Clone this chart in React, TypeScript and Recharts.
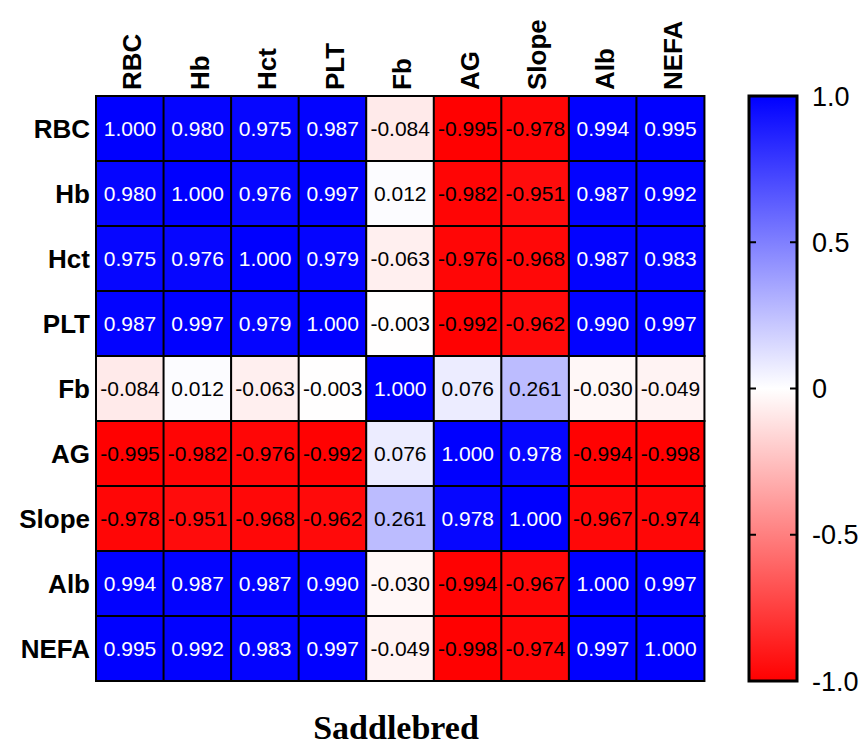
import React from "react";
import { BarChart, Bar, XAxis, YAxis, Cell, LabelList } from "recharts";

// ---------------------------------------------------------------------------
// Data
// ---------------------------------------------------------------------------

const VARS = ["RBC", "Hb", "Hct", "PLT", "Fb", "AG", "Slope", "Alb", "NEFA"];

const R_RBC = [1.0, 0.98, 0.975, 0.987, -0.084, -0.995, -0.978, 0.994, 0.995];
const R_HB = [0.98, 1.0, 0.976, 0.997, 0.012, -0.982, -0.951, 0.987, 0.992];
const R_HCT = [0.975, 0.976, 1.0, 0.979, -0.063, -0.976, -0.968, 0.987, 0.983];
const R_PLT = [0.987, 0.997, 0.979, 1.0, -0.003, -0.992, -0.962, 0.99, 0.997];
const R_FB = [-0.084, 0.012, -0.063, -0.003, 1.0, 0.076, 0.261, -0.03, -0.049];
const R_AG = [-0.995, -0.982, -0.976, -0.992, 0.076, 1.0, 0.978, -0.994, -0.998];
const R_SLOPE = [-0.978, -0.951, -0.968, -0.962, 0.261, 0.978, 1.0, -0.967, -0.974];
const R_ALB = [0.994, 0.987, 0.987, 0.99, -0.03, -0.994, -0.967, 1.0, 0.997];
const R_NEFA = [0.995, 0.992, 0.983, 0.997, -0.049, -0.998, -0.974, 0.997, 1.0];

const MATRIX = [R_RBC, R_HB, R_HCT, R_PLT, R_FB, R_AG, R_SLOPE, R_ALB, R_NEFA];

const SCALE_MIN = -1;
const SCALE_MAX = 1;
const SCALE_TICKS = [-1, -0.5, 0, 0.5, 1];
const SCALE_INNER_TICKS = [-0.5, 0, 0.5];
const ROW_TICKS = VARS.map((_, i) => i + 0.5);
const TITLE = "Saddlebred";

const SANS = "'Liberation Sans', Arial, sans-serif";
const SERIF = "'Liberation Serif', 'Times New Roman', serif";

// one entry per column; each row gets a unit-height stack segment + its r value
const table = VARS.map((name, ci) => {
  const d: Record<string, any> = { name };
  VARS.forEach((_, ri) => {
    d[`r${ri}`] = 1;
    d[`v${ri}`] = MATRIX[ri][ci];
  });
  return d;
});

const scaleData = [{ name: "scale", span: [SCALE_MIN, SCALE_MAX] }];

// white -> blue for positive, white -> red for negative
function cellColor(v: number) {
  const t = Math.round(255 * (1 - Math.min(1, Math.abs(v))));
  return v >= 0 ? `rgb(${t},${t},255)` : `rgb(255,${t},${t})`;
}

// ---------------------------------------------------------------------------
// Custom renderers
// ---------------------------------------------------------------------------

function CellLabel(props: any) {
  const vb = props.viewBox ?? props;
  const { x, y, width, height } = vb;
  const v = Number(props.value);
  return (
    <text
      x={x + width / 2}
      y={y + height / 2}
      dy="0.36em"
      textAnchor="middle"
      fontFamily={SANS}
      fontSize={21}
      fill={v > 0.5 ? "#fff" : "#000"}
    >
      {v.toFixed(3)}
    </text>
  );
}

function ColTick({ x, y, payload }: any) {
  return (
    <text
      transform={`translate(${x + 2},${y}) rotate(-90)`}
      textAnchor="start"
      dy="0.36em"
      fontFamily={SANS}
      fontSize={26}
      fontWeight={700}
      fill="#000"
    >
      {payload.value}
    </text>
  );
}

// gradient bar with short inward ticks on both sides
function ScaleBar(props: any) {
  const top = Math.min(props.y, props.y + props.height);
  const h = Math.abs(props.height);
  const left = props.x;
  const right = props.x + props.width;
  const len = 7;
  return (
    <g>
      <rect x={left} y={top} width={props.width} height={h} fill="url(#scaleGrad)" stroke="#000" strokeWidth={3} />
      {SCALE_INNER_TICKS.map((t) => {
        const ty = top + (h * (SCALE_MAX - t)) / (SCALE_MAX - SCALE_MIN);
        return (
          <g key={t} stroke="#000" strokeWidth={2}>
            <line x1={left} y1={ty} x2={left + len} y2={ty} />
            <line x1={right - len} y1={ty} x2={right} y2={ty} />
          </g>
        );
      })}
    </g>
  );
}

// ---------------------------------------------------------------------------
// App
// ---------------------------------------------------------------------------

export default function App() {
  return (
    <div style={{ position: "relative", width: 867, height: 745, background: "#fff", overflow: "hidden" }}>
      <style>{`body{margin:0}`}</style>

      {/* Heatmap */}
      <div style={{ position: "absolute", left: 0, top: 0 }}>
        <BarChart
          width={720}
          height={745}
          data={table}
          margin={{ top: 6, right: 16, bottom: 64, left: 6 }}
          barCategoryGap={0}
          barGap={0}
        >
          <XAxis
            dataKey="name"
            orientation="top"
            height={90}
            axisLine={false}
            tickLine={false}
            tickSize={6}
            tickMargin={0}
            interval={0}
            tick={<ColTick />}
          />
          <YAxis
            type="number"
            domain={[0, 9]}
            reversed
            ticks={ROW_TICKS}
            width={90}
            axisLine={false}
            tickLine={false}
            tickSize={6}
            tickMargin={0}
            interval={0}
            tickFormatter={(v: number) => VARS[Math.floor(v)]}
            tick={{ fill: "#000", fontSize: 26, fontWeight: 700, fontFamily: SANS }}
          />
          {VARS.map((_, ri) => (
            <Bar
              key={ri}
              dataKey={`r${ri}`}
              stackId="m"
              isAnimationActive={false}
            >
              {table.map((d, ci) => (
                <Cell
                  key={ci}
                  fill={cellColor(d[`v${ri}`])}
                  stroke="#000"
                  strokeWidth={2}
                />
              ))}
              <LabelList dataKey={`v${ri}`} content={<CellLabel />} />
            </Bar>
          ))}
        </BarChart>
      </div>

      {/* Colour scale */}
      <div style={{ position: "absolute", left: 700, top: 0 }}>
        <BarChart
          width={167}
          height={745}
          data={scaleData}
          margin={{ top: 96, right: 10, bottom: 64, left: 49 }}
          barCategoryGap={0}
        >
          <defs>
            <linearGradient id="scaleGrad" x1="0" y1="0" x2="0" y2="1">
              <stop offset="0%" stopColor="#0000ff" />
              <stop offset="50%" stopColor="#ffffff" />
              <stop offset="100%" stopColor="#ff0000" />
            </linearGradient>
          </defs>
          <XAxis dataKey="name" hide />
          <YAxis
            orientation="right"
            type="number"
            domain={[SCALE_MIN, SCALE_MAX]}
            ticks={SCALE_TICKS}
            width={60}
            axisLine={false}
            tickLine={false}
            tickSize={6}
            tickMargin={9}
            interval={0}
            tickFormatter={(v: number) => (v === 0 ? "0" : v.toFixed(1))}
            tick={{ fill: "#000", fontSize: 27, fontFamily: SANS, textAnchor: "start" }}
          />
          <Bar dataKey="span" shape={<ScaleBar />} isAnimationActive={false} />
        </BarChart>
      </div>

      {/* Title */}
      <div
        style={{
          position: "absolute",
          left: 246,
          width: 300,
          top: 711,
          textAlign: "center",
          fontFamily: SERIF,
          fontWeight: 700,
          fontSize: 34,
          lineHeight: "34px",
        }}
      >
        {TITLE}
      </div>
    </div>
  );
}
